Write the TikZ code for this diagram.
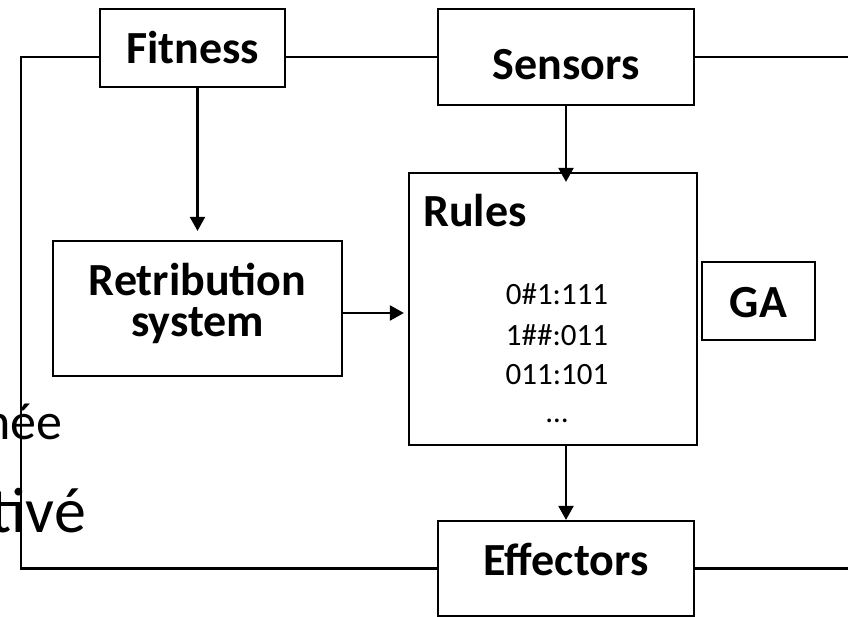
\documentclass[tikz,border=0pt]{standalone}
\usepackage{fontspec}
\setmainfont{Carlito}
\usetikzlibrary{arrows.meta}
\tikzset{
  box/.style={draw, line width=2.2pt, inner sep=0pt, font=\bfseries\fontsize{46}{41}\selectfont},
  conn/.style={line width=2.2pt},
  arr/.style={conn, -{Triangle[length=14pt,width=15pt]}},
  rulefont/.style={inner sep=0pt, anchor=base, font=\fontsize{31}{38}\selectfont},
  sidetext/.style={inner sep=0pt, anchor=base east},
}
\begin{document}
\begin{tikzpicture}[x=1pt, y=-1pt]
\useasboundingbox (0,0) rectangle (848,617);
\coordinate (edgeR) at (848,0);

% boxes
\node[box, minimum width=185pt, minimum height=78pt] (fit) at (192.5,48) {Fitness};
\node[box, minimum width=256pt, minimum height=96pt, text height=46pt, text depth=0pt] (sen) at (566,57) {Sensors};
\node[box, minimum width=256pt, minimum height=95pt, text height=32pt, text depth=19pt] (eff) at (566,568.5) {Effectors};
\node[box, minimum width=113pt, minimum height=78pt, text height=32pt, text depth=0pt] (ga) at (758.5,301) {GA};
\node[box, minimum width=289pt, minimum height=135pt, align=center, text depth=18pt] (ret) at (197.5,308.5) {Retribution\\system};
\node[box, minimum width=288pt, minimum height=272pt] (rules) at (553,309) {};

% contents of the rule base
\node[inner sep=0pt, anchor=base west, font=\bfseries\fontsize{46}{50}\selectfont] (rulesT) at (423,227) {Rules};
\node[rulefont] (r1) at (557,305) {0\#1:111};
\node[rulefont] (r2) at (557,345) {1\#\#:011};
\node[rulefont] (r3) at (557,384) {011:101};
\node[rulefont] (r4) at (557,422) {…};

% feedback loop around the system
\draw[conn] (fit.west |- sen.west) -- ++(-78,0) |- (eff.west);
\draw[conn] (sen.west) -- (sen.west -| fit.east);
\draw[conn] (sen.east) -- (sen.east -| edgeR);
\draw[conn] (eff.east) -- (eff.east -| edgeR);

% arrows
\draw[arr, shorten >=9pt] (ret.north |- fit.south) -- (ret.north);
\draw[arr, shorten >=-10pt] (sen.south) -- (sen.south |- rules.north);
\draw[arr] (eff.north |- rules.south) -- (eff.north);
\coordinate (retout) at ([yshift=-4.5pt]ret.east);
\draw[arr, shorten >=4pt] (retout) -- (retout -| rules.west);

% words running in from the left edge
\begin{scope}
\clip (0,0) rectangle (848,617);
\node[sidetext, font=\fontsize{52}{56}\selectfont] (w1) at (62.5,439) {née};
\node[sidetext, font=\fontsize{64}{68}\selectfont] (w2) at (86,532) {tivé};
\end{scope}
\end{tikzpicture}
\end{document}
